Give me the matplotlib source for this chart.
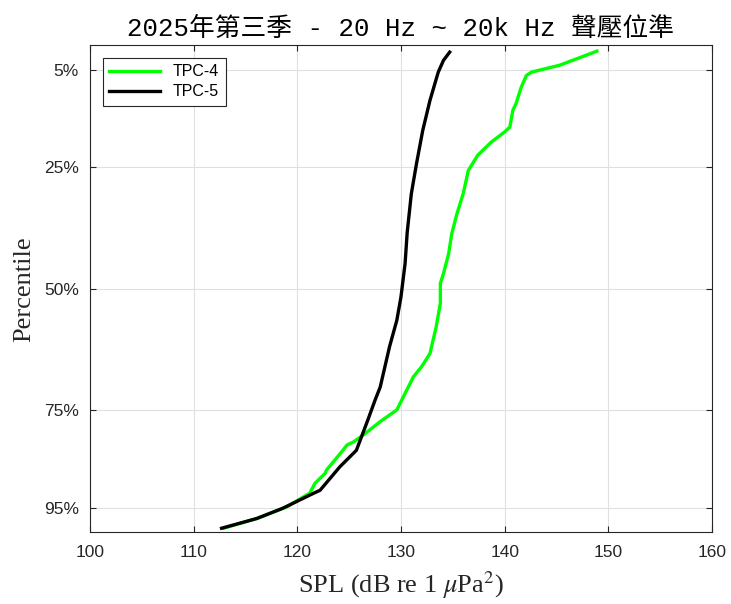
import matplotlib
matplotlib.use("Agg")
import matplotlib.pyplot as plt

plt.rcParams["mathtext.fontset"] = "stix"

# Data (SPL dB vs percentile %)
tpc4_spl = [148.9, 145.3, 142.6, 142.1, 141.6, 141.1, 140.8, 140.5, 140.0, 138.7, 137.4, 136.5,
            136.0, 135.4, 134.9, 134.6, 134.1, 133.8, 133.8, 133.4, 132.8, 132.0, 131.2, 130.4,
            129.6, 128.0, 126.4, 125.4, 124.8, 124.4, 122.8, 122.7, 121.7, 121.2, 119.0, 116.1, 112.9]
tpc4_pct = [1.2, 4.1, 5.5, 6.2, 8.6, 12.0, 13.3, 16.8, 17.8, 19.9, 22.6, 25.7,
            30.5, 34.6, 38.7, 42.8, 46.9, 48.9, 53.0, 57.8, 63.3, 66.0, 68.1, 71.5,
            74.9, 77.3, 80.0, 81.5, 82.1, 83.2, 87.3, 87.9, 90.0, 92.0, 94.8, 97.2, 99.2]

tpc5_spl = [134.7, 134.1, 133.6, 132.8, 132.1, 131.5, 131.0, 130.6, 130.4, 130.0, 129.6, 128.9,
            128.0, 127.5, 126.8, 125.7, 124.1, 122.2, 121.2, 118.6, 116.1, 112.7]
tpc5_pct = [1.4, 3.1, 5.5, 11.3, 17.5, 24.3, 30.5, 38.5, 44.8, 51.7, 56.5, 61.9,
            70.2, 72.9, 77.0, 83.2, 86.6, 91.4, 92.4, 95.1, 97.2, 99.2]

yticks = [5, 25, 50, 75, 95]
ytick_labels = ["5%", "25%", "50%", "75%", "95%"]
xticks = [100, 110, 120, 130, 140, 150, 160]

fig = plt.figure(figsize=(7.31, 6.04), dpi=100)
ax = fig.add_axes([0.123, 0.119, 0.851, 0.806])

ax.plot(tpc4_spl, tpc4_pct, color="#00ff00", lw=2.4, label="TPC-4")
ax.plot(tpc5_spl, tpc5_pct, color="black", lw=2.4, label="TPC-5")

ax.set_xlim(100, 160)
ax.set_ylim(100, 0)
ax.set_xticks(xticks)
ax.set_yticks(yticks)
ax.set_yticklabels(ytick_labels)
ax.grid(True, color="#e0e0e0", lw=0.8)
ax.set_axisbelow(True)
ax.tick_params(direction="in", top=True, right=True, labelsize=12.5, colors="#262626",
               length=4, width=0.8)
ax.tick_params(axis="x", pad=9)
ax.tick_params(axis="y", pad=8)
for lab in ax.get_xticklabels() + ax.get_yticklabels():
    lab.set_family("Liberation Sans")
for s in ax.spines.values():
    s.set_color("#262626")
    s.set_linewidth(0.8)

ax.set_xlabel(r"SPL (dB re 1 $\mu$Pa$^2$)", family="Liberation Serif", fontsize=19,
              color="#262626", labelpad=7)
ax.set_ylabel("Percentile", family="Liberation Serif", fontsize=19, color="#262626",
              labelpad=6)
ax.set_title("2025年第三季 - 20 Hz ~ 20k Hz 聲壓位準",
             family=["Liberation Mono", "Noto Sans CJK TC"], fontsize=18.5, pad=7)

leg = ax.legend(loc="upper left", prop={"family": "Liberation Sans", "size": 11.5},
                fancybox=False, edgecolor="#262626", framealpha=1,
                borderaxespad=0.8, handlelength=3.2, labelspacing=0.3)
leg.get_frame().set_linewidth(0.8)

fig.savefig("out.png", dpi=100)
